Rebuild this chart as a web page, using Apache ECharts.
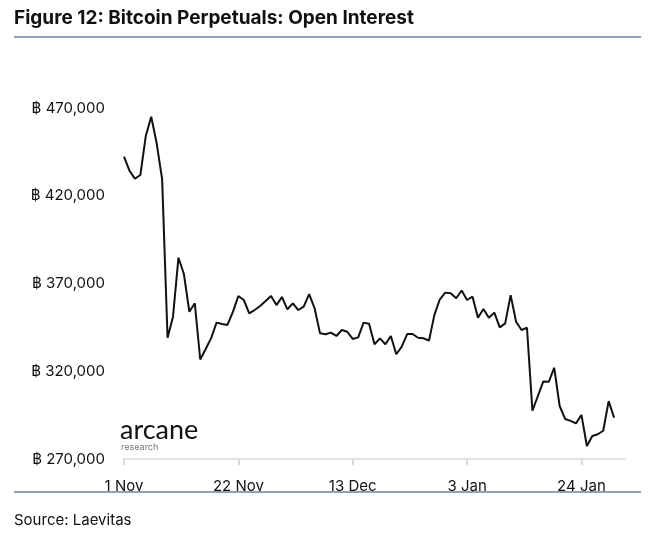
<!DOCTYPE html>
<html>
<head>
<meta charset="utf-8">
<script src="https://cdn.jsdelivr.net/npm/echarts@6/dist/echarts.min.js"></script>
<style>
  html, body { margin: 0; padding: 0; background: #fff; }
  #chart { width: 664px; height: 538px; }
</style>
</head>
<body>
<div id="chart"></div>
<script>
// daily open interest (BTC), 1 Nov .. 30 Jan
const openInterest = [
  442250, 434300, 429700, 431800, 454000, 465000, 449900, 429500, 339100, 351100,
  384700, 375400, 353900, 358700, 326700, 332700, 338900, 347700, 346900, 346400,
  353800, 362900, 360600, 353000, 354900, 357200, 360000, 362900, 357700, 362300,
  355300, 358700, 354900, 356800, 364000, 355900, 341600, 341100, 342000, 340100,
  343500, 342500, 338400, 339300, 347700, 347100, 335400, 338700, 335400, 340100,
  329700, 334000, 341200, 341200, 339100, 338800, 337400, 352100, 361000, 364800,
  364400, 361600, 366000, 360600, 362500, 350500, 355500, 350500, 353400, 345000,
  347300, 363400, 348200, 343500, 344800, 297500, 305900, 314200, 314000, 322000,
  300200, 292800, 291700, 290300, 295100, 277400, 283100, 284100, 286100, 303000,
  293500
];
const months = ['Jan','Feb','Mar','Apr','May','Jun','Jul','Aug','Sep','Oct','Nov','Dec'];
const yTicks = [270000, 320000, 370000, 420000, 470000];

// category days, 1 Nov through 1 Feb (axis runs a little past the last point)
const days = [];
for (let i = 0; i < 93; i++) {
  const d = new Date(Date.UTC(2021, 10, 1 + i));
  days.push(d.getUTCDate() + ' ' + months[d.getUTCMonth()]);
}

const font = 'Inter';
const myChart = echarts.init(document.getElementById('chart'), null, { renderer: 'canvas' });

const option = {
  animation: false,
  backgroundColor: '#fff',
  grid: { left: 124, right: 39, top: 108, bottom: 79 },
  xAxis: {
    type: 'category',
    data: days,
    boundaryGap: false,
    axisLine: { lineStyle: { color: '#e3e3e3', width: 2 } },
    axisTick: { show: true, interval: 20, length: 6, lineStyle: { color: '#d9d9d9', width: 2 } },
    axisLabel: { interval: 20, margin: 20, color: '#111', fontSize: 15, fontFamily: font },
    splitLine: { show: false }
  },
  yAxis: {
    type: 'value',
    min: yTicks[0],
    max: yTicks[yTicks.length - 1],
    interval: 50000,
    axisLine: { show: false },
    axisTick: { show: false },
    splitLine: { show: false },
    axisLabel: {
      margin: 19, color: '#111', fontSize: 15, fontFamily: font,
      formatter: v => '\u0E3F ' + v.toLocaleString('en-US')
    }
  },
  series: [{
    type: 'line',
    data: openInterest,
    showSymbol: false,
    lineStyle: { color: '#111', width: 2 },
    z: 3
  }],
  graphic: [
    { type: 'text', left: 14, top: 9,
      style: { text: 'Figure 12: Bitcoin Perpetuals: Open Interest', fill: '#111',
               font: 'bold 19px ' + font } },
    { type: 'rect', shape: { x: 14, y: 36, width: 627, height: 2 },
      style: { fill: '#8ea3b9' } },
    { type: 'rect', shape: { x: 14, y: 491, width: 627, height: 2 },
      style: { fill: '#8ea3b9' } },
    { type: 'text', left: 14, top: 513,
      style: { text: 'Source: Laevitas', fill: '#111', font: '15px ' + font } },
    { type: 'text', left: 120, top: 417,
      style: { text: 'arcane', fill: '#111', font: '27px Lato' } },
    { type: 'text', left: 121, top: 443,
      style: { text: 'research', fill: '#777', font: '9px ' + font } }
  ]
};

myChart.setOption(option);
</script>
</body>
</html>
